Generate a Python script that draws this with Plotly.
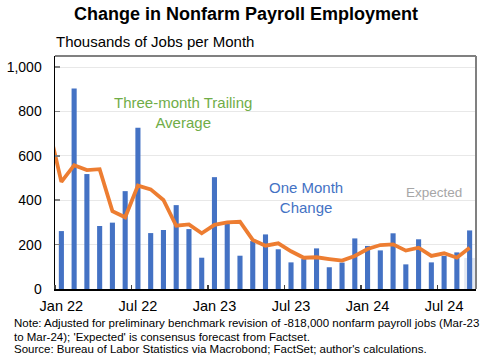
import plotly.graph_objects as go

# ---- data ----
months = ["Dec 21",
          "Jan 22", "Feb 22", "Mar 22", "Apr 22", "May 22", "Jun 22", "Jul 22", "Aug 22", "Sep 22", "Oct 22", "Nov 22", "Dec 22",
          "Jan 23", "Feb 23", "Mar 23", "Apr 23", "May 23", "Jun 23", "Jul 23", "Aug 23", "Sep 23", "Oct 23", "Nov 23", "Dec 23",
          "Jan 24", "Feb 24", "Mar 24", "Apr 24", "May 24", "Jun 24", "Jul 24", "Aug 24", "Sep 24"]
one_month_change = [None,
                    261, 904, 518, 284, 299, 441, 727, 252, 266, 378, 270, 141,
                    504, 297, 150, 216, 246, 179, 120, 135, 183, 98, 119, 228,
                    194, 174, 251, 111, 224, 120, 149, 165, 264]
three_month_avg = [730,
                   483, 558, 536, 540, 351, 323, 466, 449, 401, 285, 291, 251,
                   289, 300, 303, 221, 195, 206, 170, 141, 143, 135, 128, 149,
                   180, 198, 201, 173, 186, 149, 161, 141, 186]
expected_month = ["Sep 24"]
expected_value = [140]
tick_labels = ["Jan 22", "Jul 22", "Jan 23", "Jul 23", "Jan 24", "Jul 24"]
y_ticks = [0, 200, 400, 600, 800, 1000]

# index positions (Jan 22 = 0)
idx = {m: i - 1 for i, m in enumerate(months)}
xs = [idx[m] for m in months]

FONT = "Liberation Sans, Arial, sans-serif"
BLUE = "#4472C4"
ORANGE = "#ED7D31"
GREEN = "#70AD47"

fig = go.Figure()
fig.add_trace(go.Bar(x=[idx[m] for m in expected_month], y=expected_value, width=0.85,
                     marker=dict(color="#e3e8f2", line=dict(width=0)), hoverinfo="skip"))
fig.add_trace(go.Bar(x=xs, y=one_month_change, width=0.4,
                     marker=dict(color=BLUE, line=dict(width=0)), hoverinfo="skip"))
fig.add_trace(go.Scatter(x=xs, y=three_month_avg, mode="lines",
                         line=dict(color=ORANGE, width=3.8), hoverinfo="skip"))

fig.update_layout(
    width=492, height=358,
    margin=dict(l=55, r=16, t=56, b=69, autoexpand=False),
    paper_bgcolor="white", plot_bgcolor="white",
    barmode="overlay", showlegend=False,
    font=dict(family=FONT, size=14, color="black"),
)
fig.update_xaxes(
    range=[-0.5, len(months) - 1.5], automargin=False,
    tickmode="array", tickvals=[idx[t] for t in tick_labels], ticktext=tick_labels,
    ticks="", showgrid=False, zeroline=False,
    showline=True, linecolor="black", linewidth=1.5,
    tickfont=dict(size=14.5, color="black"), ticklabelstandoff=3,
    minor=dict(tickmode="array", tickvals=[idx[t] - 0.5 for t in tick_labels],
               ticks="inside", ticklen=4, tickcolor="#404040", tickwidth=1.5),
)
fig.update_yaxes(
    range=[0, 1050], automargin=False,
    tickmode="array", tickvals=y_ticks, ticktext=[f"{v:,}" for v in y_ticks],
    ticks="inside", ticklen=5, tickcolor="#808080", tickwidth=1.5,
    showgrid=True, gridcolor="#e8e8e8", gridwidth=1, zeroline=False,
    showline=True, linecolor="black", linewidth=1.5,
    tickfont=dict(size=14, color="black"), ticklabelstandoff=9,
)

# frame top & right in grey
fig.add_shape(type="line", xref="paper", yref="paper", x0=0, x1=1, y0=1, y1=1,
              line=dict(color="#808080", width=2))
fig.add_shape(type="line", xref="paper", yref="paper", x0=1, x1=1, y0=0, y1=1,
              line=dict(color="#808080", width=2))

PW, PH = 421, 233
ann = []
ann.append(dict(text="<b>Change in Nonfarm Payroll Employment</b>", xref="paper", yref="paper",
                x=(246 - 55) / PW, y=(289 - 14) / PH, xanchor="center", yanchor="middle",
                showarrow=False, font=dict(size=18, color="black")))
ann.append(dict(text="Thousands of Jobs per Month", xref="paper", yref="paper",
                x=-0.002, y=(289 - 41) / PH, xanchor="left", yanchor="middle",
                showarrow=False, font=dict(size=15, color="black")))
ann.append(dict(text="Three-month Trailing<br>Average", x=9.55, y=797, xanchor="center", yanchor="middle",
                showarrow=False, font=dict(size=15, color=GREEN)))
ann.append(dict(text="One Month<br>Change", x=19.2, y=414, xanchor="center", yanchor="middle",
                showarrow=False, font=dict(size=15, color=BLUE)))
ann.append(dict(text="Expected", x=29.2, y=437, xanchor="center", yanchor="middle",
                showarrow=False, font=dict(size=13.5, color="#a6a6a6")))
notes = ["Note: Adjusted for preliminary benchmark revision of -818,000 nonfarm payroll jobs (Mar-23",
         "to Mar-24); 'Expected' is consensus forecast from Factset.",
         "Source: Bureau of Labor Statistics via Macrobond; FactSet; author's calculations."]
for i, line in enumerate(notes):
    yc = [323, 336.5, 349][i]
    ann.append(dict(text=line, xref="paper", yref="paper", x=(12 - 55) / PW, y=(289 - yc) / PH,
                    xanchor="left", yanchor="middle", showarrow=False,
                    font=dict(size=11.5, color="black")))
fig.update_layout(annotations=ann)

fig.write_html("out.html", config={"displayModeBar": False, "staticPlot": True},
               post_script="document.body.style.margin='0';document.body.style.overflow='hidden';")
